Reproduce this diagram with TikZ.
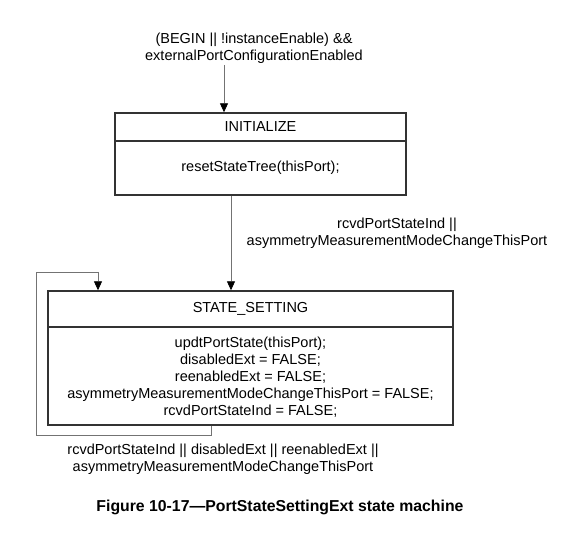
\documentclass[tikz,border=0pt]{standalone}
\usepackage{fontspec}
\setmainfont{Liberation Sans}
\usetikzlibrary{arrows.meta}
\begin{document}
\begin{tikzpicture}[x=1pt,y=-1pt,
  box/.style={draw=black!80, line width=1.4pt, inner sep=0pt},
  divider/.style={draw=black!80, line width=1.4pt},
  conn/.style={draw=black!55, line width=0.8pt},
  arr/.style={conn, -{Triangle[length=9pt,width=8pt,fill=black,color=black]}},
  lbl/.style={font=\fontsize{14.5}{16.8}\selectfont, align=center, inner sep=0pt, text=black},
  body/.style={font=\fontsize{14.5}{17}\selectfont, align=center, inner sep=0pt, text=black},
  captiontext/.style={font=\fontsize{15.8}{18}\selectfont\bfseries, inner sep=0pt}]
\useasboundingbox (0,0) rectangle (571,545);
% INITIALIZE state
\node[box, minimum width=291pt, minimum height=82pt] (init) at (260.5,154) {};
\coordinate (initdiv) at (0,141);
\draw[divider] (init.west |- initdiv) -- (init.east |- initdiv);
\node[body] (inittitle) at (260.5,127) {INITIALIZE};
\node[body] (initbody) at (260.5,168) {resetStateTree(thisPort);};
% STATE_SETTING state
\node[box, minimum width=405pt, minimum height=134pt] (st) at (250.5,358) {};
\coordinate (stdiv) at (0,327);
\draw[divider] (st.west |- stdiv) -- (st.east |- stdiv);
\node[body] (sttitle) at (250.5,309) {STATE\_SETTING};
\node[body] (stbody) at (250.5,377) {updtPortState(thisPort);\\disabledExt = FALSE;\\reenabledExt = FALSE;\\asymmetryMeasurementModeChangeThisPort = FALSE;\\rcvdPortStateInd = FALSE;};
% labels
\node[lbl] (toplbl) at (254,48) {(BEGIN || !instanceEnable) \&\&\\externalPortConfigurationEnabled};
\node[lbl] (midlbl) at (397,233.5) {rcvdPortStateInd ||\\asymmetryMeasurementModeChangeThisPort};
\node[lbl] (botlbl) at (223,459) {rcvdPortStateInd || disabledExt || reenabledExt ||\\asymmetryMeasurementModeChangeThisPort};
\node[captiontext] (caption) at (280,507) {Figure 10-17—PortStateSettingExt state machine};
% connectors
\coordinate (entry) at (224,65);
\draw[arr] (entry) -- (entry |- init.north);
\coordinate (mx) at (231,0);
\draw[arr] (init.south -| mx) -- (st.north -| mx);
\coordinate (lx) at (211,0);
\coordinate (l1) at (211,435);
\coordinate (l2) at (36,435);
\coordinate (l3) at (36,272);
\coordinate (l4) at (98,272);
\draw[conn] (st.south -| lx) -- (l1) -- (l2) -- (l3) -- (l4);
\draw[arr] (l4) -- (st.north -| l4);
\end{tikzpicture}
\end{document}
